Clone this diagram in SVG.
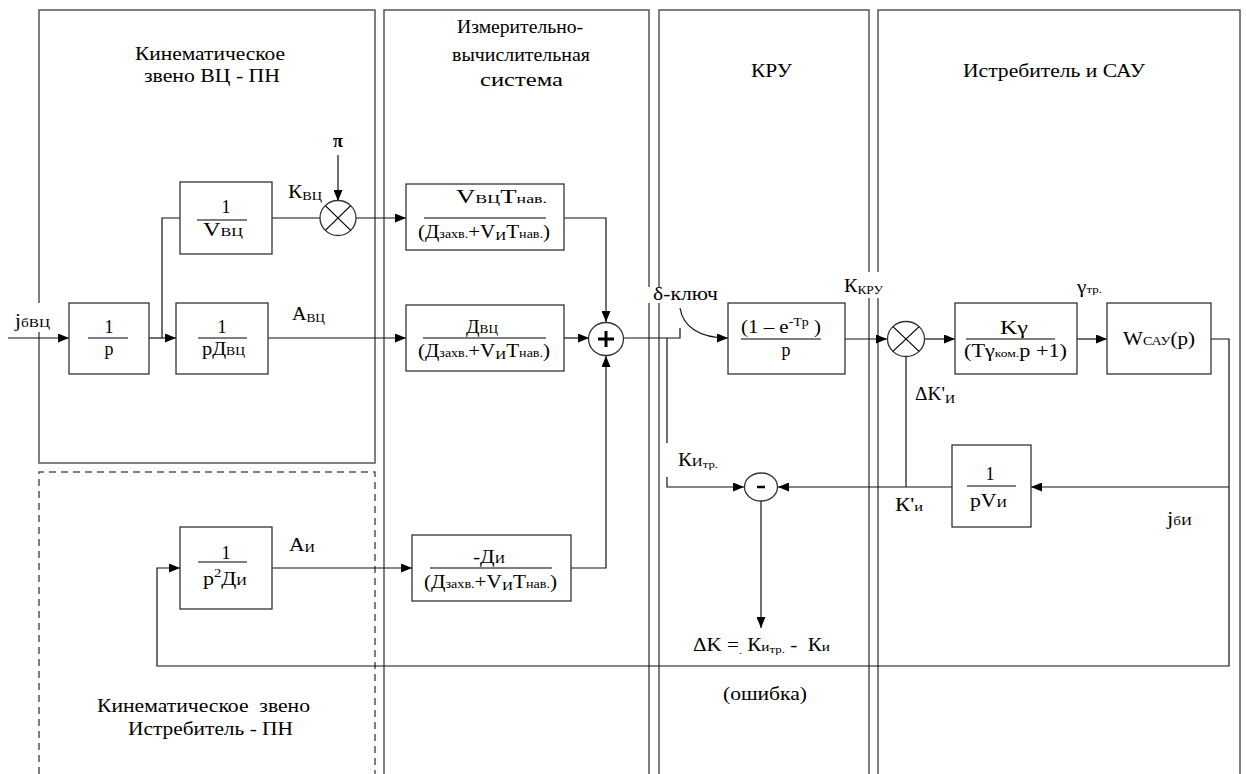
<svg xmlns="http://www.w3.org/2000/svg" width="1246" height="774" viewBox="0 0 1246 774">
<defs>
<marker id="ah" viewBox="0 0 11 9" refX="11" refY="4.5" markerWidth="11" markerHeight="9" markerUnits="userSpaceOnUse" orient="auto"><path d="M0,0 L11,4.5 L0,9 z" fill="#000"/></marker>
</defs>
<rect width="1246" height="774" fill="#fff"/>

<g id="panels" fill="none" stroke="#555" stroke-width="1.5">
<rect x="39" y="10" width="336" height="453"/>
<path stroke-dasharray="7,5" d="M39,774 V472 H375 V774"/>
<path d="M384,774 V10 H649 V774"/>
<path d="M659,774 V10 H869 V774"/>
<path d="M878,774 V10 H1240 V774"/>
</g>

<g id="titles" fill="#000">
<text font-family="Liberation Serif" font-size="19" x="135" y="60" textLength="150" lengthAdjust="spacingAndGlyphs">Кинематическое</text>
<text font-family="Liberation Serif" font-size="19" x="144" y="82" textLength="136" lengthAdjust="spacingAndGlyphs">звено ВЦ - ПН</text>
<text font-family="Liberation Serif" font-size="19" x="457" y="33" textLength="126" lengthAdjust="spacingAndGlyphs">Измерительно-</text>
<text font-family="Liberation Serif" font-size="19" x="452" y="61" textLength="138" lengthAdjust="spacingAndGlyphs">вычислительная</text>
<text font-family="Liberation Serif" font-size="19" x="480" y="86" textLength="83" lengthAdjust="spacingAndGlyphs">система</text>
<text font-family="Liberation Serif" font-size="19" x="751" y="77" textLength="41" lengthAdjust="spacingAndGlyphs">КРУ</text>
<text font-family="Liberation Serif" font-size="19" x="963" y="77" textLength="182" lengthAdjust="spacingAndGlyphs">Истребитель и САУ</text>
<text font-family="Liberation Serif" font-size="19" x="97" y="712" textLength="213" lengthAdjust="spacingAndGlyphs" xml:space="preserve">Кинематическое  звено</text>
<text font-family="Liberation Serif" font-size="19" x="128" y="735" textLength="165" lengthAdjust="spacingAndGlyphs">Истребитель - ПН</text>
<text font-family="Liberation Serif" font-size="19" x="723" y="700" textLength="84" lengthAdjust="spacingAndGlyphs">(ошибка)</text>
</g>

<g id="connectors" fill="none" stroke="#111" stroke-width="1.2">
<path marker-end="url(#ah)" d="M8,338 H69"/>
<path marker-end="url(#ah)" d="M149,338 H176"/>
<path d="M162,338 V218 H180"/>
<path marker-end="url(#ah)" d="M272,218 H333"/>
<path marker-end="url(#ah)" d="M338,155 V201"/>
<path marker-end="url(#ah)" d="M356,218 H406"/>
<path marker-end="url(#ah)" d="M268,338 H406"/>
<path marker-end="url(#ah)" d="M564,218 H606 V322"/>
<path marker-end="url(#ah)" d="M564,338 H589"/>
<path marker-end="url(#ah)" d="M571,568 H606 V356"/>
<path d="M617,328 V338 H680 V328"/>
<path marker-end="url(#ah)" d="M667,338 V487 H744"/>
<path marker-end="url(#ah)" d="M680,308 C683,326 698,338 728,338"/>
<path marker-end="url(#ah)" d="M845,339 H887"/>
<path marker-end="url(#ah)" d="M924,339 H955"/>
<path marker-end="url(#ah)" d="M1077,339 H1107"/>
<path marker-end="url(#ah)" d="M1211,339 H1229 V666 H157 V568 H180"/>
<path marker-end="url(#ah)" d="M1229,487 H1031"/>
<path marker-end="url(#ah)" d="M952,487 H778"/>
<path marker-end="url(#ah)" d="M906,487 V344"/>
<path marker-end="url(#ah)" d="M761,501 V628"/>
<path marker-end="url(#ah)" d="M272,568 H412"/>
</g>

<g id="nodes" fill="#000">
<g id="n-p">
<rect fill="#fff" stroke="#333" stroke-width="1.3" x="69" y="303" width="80" height="71"/>
<line stroke="#000" stroke-width="1.2" x1="88" y1="338" x2="128" y2="338"/>
<text font-family="Liberation Serif" font-size="18" x="109" y="333" text-anchor="middle">1</text>
<text font-family="Liberation Serif" font-size="18" x="109" y="355" text-anchor="middle">p</text>
</g>
<g id="n-pd">
<rect fill="#fff" stroke="#333" stroke-width="1.3" x="176" y="303" width="92" height="71"/>
<line stroke="#000" stroke-width="1.2" x1="198" y1="338" x2="247" y2="338"/>
<text font-family="Liberation Serif" font-size="18" x="222" y="333" text-anchor="middle">1</text>
<text font-family="Liberation Serif" font-size="18" x="202" y="355" textLength="43" lengthAdjust="spacingAndGlyphs">pД<tspan font-size="12">ВЦ</tspan></text>
</g>
<g id="n-v">
<rect fill="#fff" stroke="#333" stroke-width="1.3" x="180" y="182" width="92" height="72"/>
<line stroke="#000" stroke-width="1.2" x1="197" y1="220" x2="247" y2="220"/>
<text font-family="Liberation Serif" font-size="18" x="226" y="213" text-anchor="middle">1</text>
<text font-family="Liberation Serif" font-size="18" x="203" y="236" textLength="40" lengthAdjust="spacingAndGlyphs">V<tspan font-size="12">ВЦ</tspan></text>
</g>
<g id="n-x1">
<ellipse fill="#fff" stroke="#333" stroke-width="1.3" cx="338" cy="218" rx="18" ry="17.5"/>
<path stroke="#000" stroke-width="1.2" d="M325.3,205.6 L350.7,230.4 M350.7,205.6 L325.3,230.4"/>
</g>
<g id="n-p2d">
<rect fill="#fff" stroke="#333" stroke-width="1.3" x="180" y="527" width="92" height="82"/>
<line stroke="#000" stroke-width="1.2" x1="198" y1="562" x2="247" y2="562"/>
<text font-family="Liberation Serif" font-size="18" x="226" y="559" text-anchor="middle">1</text>
<text font-family="Liberation Serif" font-size="18" x="203" y="585" textLength="44" lengthAdjust="spacingAndGlyphs">p<tspan font-size="12" dy="-8">2</tspan><tspan dy="8">Д</tspan><tspan font-size="12">И</tspan></text>
</g>
<g id="n-ivs1">
<rect fill="#fff" stroke="#333" stroke-width="1.3" x="406" y="184" width="158" height="66"/>
<line stroke="#000" stroke-width="1.2" x1="424" y1="218" x2="546" y2="218"/>
<text font-family="Liberation Serif" font-size="18" x="456" y="203" textLength="91" lengthAdjust="spacingAndGlyphs">V<tspan font-size="12">ВЦ</tspan>T<tspan font-size="12">нав.</tspan></text>
<text font-family="Liberation Serif" font-size="18" x="418" y="238" textLength="132" lengthAdjust="spacingAndGlyphs">(Д<tspan font-size="12">захв.</tspan>+V<tspan font-size="13" dy="2">И</tspan><tspan dy="-2">T</tspan><tspan font-size="12">нав.</tspan>)</text>
</g>
<g id="n-ivs2">
<rect fill="#fff" stroke="#333" stroke-width="1.3" x="406" y="305" width="158" height="66"/>
<line stroke="#000" stroke-width="1.2" x1="423" y1="338" x2="546" y2="338"/>
<text font-family="Liberation Serif" font-size="18" x="466" y="333" textLength="32" lengthAdjust="spacingAndGlyphs">Д<tspan font-size="12">ВЦ</tspan></text>
<text font-family="Liberation Serif" font-size="18" x="418" y="357" textLength="132" lengthAdjust="spacingAndGlyphs">(Д<tspan font-size="12">захв.</tspan>+V<tspan font-size="13" dy="2">И</tspan><tspan dy="-2">T</tspan><tspan font-size="12">нав.</tspan>)</text>
</g>
<g id="n-ivs3">
<rect fill="#fff" stroke="#333" stroke-width="1.3" x="412" y="535" width="159" height="66"/>
<line stroke="#000" stroke-width="1.2" x1="430" y1="568" x2="552" y2="568"/>
<text font-family="Liberation Serif" font-size="18" x="473" y="563" textLength="32" lengthAdjust="spacingAndGlyphs">-Д<tspan font-size="12">И</tspan></text>
<text font-family="Liberation Serif" font-size="18" x="424" y="588" textLength="133" lengthAdjust="spacingAndGlyphs">(Д<tspan font-size="12">захв.</tspan>+V<tspan font-size="13" dy="2">И</tspan><tspan dy="-2">T</tspan><tspan font-size="12">нав.</tspan>)</text>
</g>
<g id="n-sum">
<ellipse fill="#fff" stroke="#333" stroke-width="1.3" cx="606" cy="339" rx="17.5" ry="16.5"/>
<path d="M598,339 H614 M606,331 V347" stroke="#000" stroke-width="3"/>
</g>
<g id="n-kru">
<rect fill="#fff" stroke="#333" stroke-width="1.3" x="728" y="303" width="117" height="71"/>
<line stroke="#000" stroke-width="1.2" x1="741" y1="339" x2="821" y2="339"/>
<text font-family="Liberation Serif" font-size="18" x="741" y="333" textLength="80" lengthAdjust="spacingAndGlyphs">(1 – e<tspan font-size="12" dy="-7">-Tp</tspan><tspan dy="7"> )</tspan></text>
<text font-family="Liberation Serif" font-size="18" x="786" y="356" text-anchor="middle">p</text>
</g>
<g id="n-x2">
<ellipse fill="#fff" stroke="#333" stroke-width="1.3" cx="906" cy="339" rx="18.5" ry="17.5"/>
<path stroke="#000" stroke-width="1.2" d="M892.9,326.6 L919.1,351.4 M919.1,326.6 L892.9,351.4"/>
</g>
<g id="n-kg">
<rect fill="#fff" stroke="#333" stroke-width="1.3" x="955" y="303" width="122" height="71"/>
<line stroke="#000" stroke-width="1.2" x1="966" y1="339" x2="1055" y2="339"/>
<text font-family="Liberation Serif" font-size="18" x="1000" y="334" textLength="28" lengthAdjust="spacingAndGlyphs">Kγ</text>
<text font-family="Liberation Serif" font-size="18" x="964" y="357" textLength="103" lengthAdjust="spacingAndGlyphs">(Tγ<tspan font-size="11">ком.</tspan>p +1)</text>
</g>
<g id="n-w">
<rect fill="#fff" stroke="#333" stroke-width="1.3" x="1107" y="303" width="104" height="71"/>
<text font-family="Liberation Serif" font-size="18" x="1123" y="345" textLength="72" lengthAdjust="spacingAndGlyphs">W<tspan font-size="12">САУ</tspan>(p)</text>
</g>
<g id="n-pv">
<rect fill="#fff" stroke="#333" stroke-width="1.3" x="952" y="445" width="79" height="82"/>
<line stroke="#000" stroke-width="1.2" x1="967" y1="486" x2="1016" y2="486"/>
<text font-family="Liberation Serif" font-size="18" x="990" y="480" text-anchor="middle">1</text>
<text font-family="Liberation Serif" font-size="18" x="970" y="507" textLength="37" lengthAdjust="spacingAndGlyphs">pV<tspan font-size="12">И</tspan></text>
</g>
<g id="n-minus">
<ellipse fill="#fff" stroke="#333" stroke-width="1.3" cx="761" cy="487" rx="16.5" ry="14"/>
<path d="M757,487 H765" stroke="#000" stroke-width="2.5"/>
</g>
</g>

<g id="labels" fill="#000">
<rect fill="#fff" x="12" y="303" width="40" height="29"/>
<text font-family="Liberation Serif" font-size="18" x="15" y="327" textLength="35" lengthAdjust="spacingAndGlyphs">j<tspan font-size="13">бВЦ</tspan></text>
<text font-family="Liberation Serif" font-size="18" x="338" y="147" text-anchor="middle" font-weight="bold">π</text>
<text font-family="Liberation Serif" font-size="18" x="288" y="198" textLength="34" lengthAdjust="spacingAndGlyphs">К<tspan font-size="12" dy="2">ВЦ</tspan></text>
<text font-family="Liberation Serif" font-size="18" x="292" y="320" textLength="33" lengthAdjust="spacingAndGlyphs">А<tspan font-size="12" dy="2">ВЦ</tspan></text>
<text font-family="Liberation Serif" font-size="18" x="289" y="551" textLength="26" lengthAdjust="spacingAndGlyphs">А<tspan font-size="12" dy="1">И</tspan></text>
<rect fill="#fff" x="646" y="287" width="74" height="16"/>
<text font-family="Liberation Serif" font-size="18" x="653" y="300" textLength="65" lengthAdjust="spacingAndGlyphs">δ-ключ</text>
<rect fill="#fff" x="842" y="272" width="43" height="26"/>
<text font-family="Liberation Serif" font-size="18" x="844" y="292" textLength="39" lengthAdjust="spacingAndGlyphs">К<tspan font-size="12" dy="2">КРУ</tspan></text>
<text font-family="Liberation Serif" font-size="18" x="1077" y="293" textLength="25" lengthAdjust="spacingAndGlyphs">γ<tspan font-size="11">тр.</tspan></text>
<rect fill="#fff" x="663" y="443" width="57" height="34"/>
<text font-family="Liberation Serif" font-size="18" x="678" y="466" textLength="40" lengthAdjust="spacingAndGlyphs">К<tspan font-size="13">И</tspan><tspan font-size="11" dy="2">тр.</tspan></text>
<text font-family="Liberation Serif" font-size="18" x="915" y="400" textLength="40" lengthAdjust="spacingAndGlyphs">ΔK'<tspan font-size="13" dy="3">И</tspan></text>
<text font-family="Liberation Serif" font-size="18" x="895" y="511" textLength="28" lengthAdjust="spacingAndGlyphs">К'<tspan font-size="13">и</tspan></text>
<text font-family="Liberation Serif" font-size="18" x="1167" y="525" textLength="25" lengthAdjust="spacingAndGlyphs">j<tspan font-size="12">бИ</tspan></text>
<text font-family="Liberation Serif" font-size="18" x="693" y="651" textLength="137" lengthAdjust="spacingAndGlyphs" xml:space="preserve">ΔK =<tspan font-size="10" dy="3">.</tspan><tspan dy="-3"> К</tspan><tspan font-size="13">и</tspan><tspan font-size="11" dy="2">тр.</tspan><tspan dy="-2"> -  К</tspan><tspan font-size="13">и</tspan></text>
</g>
</svg>
